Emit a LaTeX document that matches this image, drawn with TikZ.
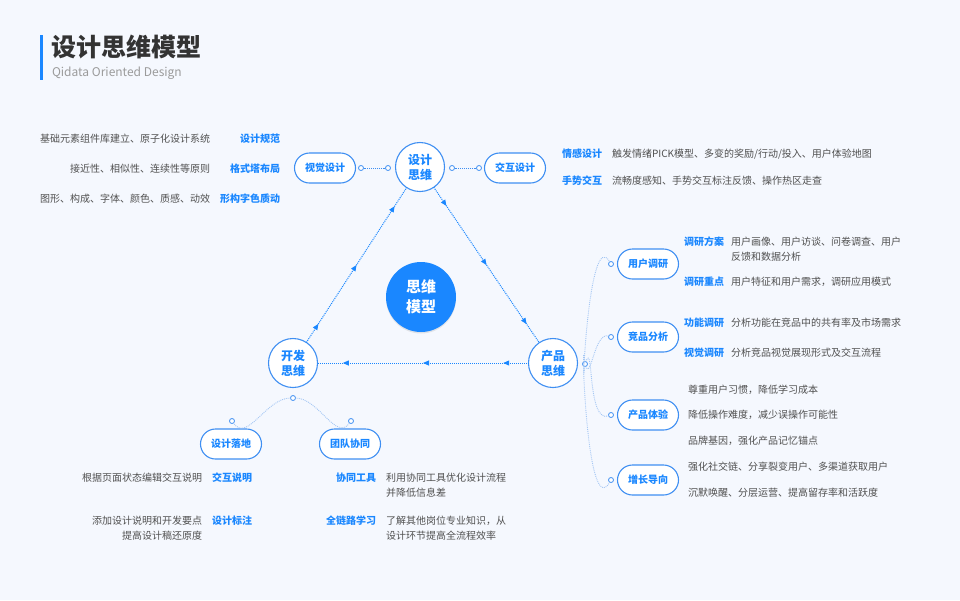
\documentclass[tikz,border=0pt]{standalone}
\usepackage{fontspec}
\setmainfont{Noto Sans CJK SC}
\usetikzlibrary{arrows.meta,decorations.markings,shadows}

\definecolor{pagebg}{HTML}{F5F8FE}
\definecolor{mainblue}{HTML}{1A87FF}
\definecolor{edgeblue}{HTML}{3F8FF2}
\definecolor{linkblue}{HTML}{A3C6F4}
\definecolor{notegray}{HTML}{505050}
\definecolor{titlegray}{HTML}{333333}
\definecolor{subgray}{HTML}{9B9B9B}

\begin{document}
\begin{tikzpicture}[x=1pt, y=-1pt, every node/.style={inner sep=0pt, outer sep=0pt}]
    \tikzstyle{think}=[circle, minimum size=49pt, draw=edgeblue, line width=1.1pt, fill=white, text=mainblue, align=center, font=\bfseries\fontsize{12}{15}\selectfont]
    \tikzstyle{core}=[circle, minimum size=70pt, fill=mainblue, text=white, align=center, font=\bfseries\fontsize{15}{20}\selectfont, drop shadow={shadow xshift=0pt, shadow yshift=-1.5pt, opacity=0.18}]
    \tikzstyle{pill}=[rounded corners=15pt, minimum width=61pt, minimum height=30pt, draw=edgeblue, line width=1.1pt, fill=white, text=mainblue, font=\bfseries\fontsize{10}{12}\selectfont]
    \tikzstyle{knob}=[circle, minimum size=5pt, draw=edgeblue, line width=0.8pt, fill=white]
    \tikzstyle{tag}=[text=mainblue, font=\bfseries\fontsize{10}{12}\selectfont]
    \tikzstyle{note}=[text=notegray, font=\fontsize{10}{15}\selectfont]
    \tikzstyle{link}=[draw=linkblue, densely dotted, line width=0.9pt]
    \tikzstyle{flow}=[draw=mainblue, densely dotted, line width=1pt, postaction={decorate}, decoration={markings,
        mark=at position 0.12 with {\arrow{Triangle[length=6pt, width=5pt]}},
        mark=at position 0.5 with {\arrow{Triangle[length=6pt, width=5pt]}},
        mark=at position 0.88 with {\arrow{Triangle[length=6pt, width=5pt]}}}]

    % Background
    \fill[pagebg] (0,0) rectangle (960,600);

    % Title
    \fill[mainblue] (40,35) rectangle (42.5,80);
    \node[anchor=west, text=titlegray, font=\bfseries\fontsize{25}{27}\selectfont] (title) at (51,47) {设计思维模型};
    \node[anchor=west, text=subgray, font=\fontsize{12}{13}\selectfont] (subtitle) at (52,73) {Qidata Oriented Design};

    % Thinking circles
    \node[think] (design) at (420,167) {设计\\思维};
    \node[think] (product) at (553,363) {产品\\思维};
    \node[think] (dev) at (293,363) {开发\\思维};
    \node[core] (core) at (421,297) {思维\\模型};

    % Cycle between the circles
    \draw[flow] (design) -- (product);
    \draw[flow] (product) -- (dev);
    \draw[flow] (dev) -- (design);

    % Design thinking branches
    \node[pill] (visual) at (325,168) {视觉设计};
    \node[pill] (interact) at (515,168) {交互设计};
    \node[knob] (vk-1) at (361,168) {};
    \node[knob] (vk-2) at (388,168) {};
    \node[knob] (ik-1) at (452,168) {};
    \node[knob] (ik-2) at (479,168) {};
    \draw[link, draw=edgeblue] (vk-1) -- (vk-2);
    \draw[link, draw=edgeblue] (ik-1) -- (ik-2);

    \foreach \n/\y/\tg/\nt in {1/139/设计规范/基础元素组件库建立、原子化设计系统,
                               2/169/格式塔布局/接近性、相似性、连续性等原则,
                               3/199/形构字色质动/图形、构成、字体、颜色、质感、动效} {
        \node[tag, anchor=east] (vtag-\n) at (280,\y) {\tg};
        \node[note, anchor=east] (vnote-\n) at (210,\y) {\nt};
    }

    \node[tag, anchor=west] (itag-1) at (562,154) {情感设计};
    \node[note, anchor=west] (inote-1) at (612,154) {触发情绪PICK模型、多变的奖励/行动/投入、用户体验地图};
    \node[tag, anchor=west] (itag-2) at (562,181) {手势交互};
    \node[note, anchor=west] (inote-2) at (612,181) {流畅度感知、手势交互标注反馈、操作热区走查};

    % Product thinking branches
    \node[knob] (phub) at (585,364) {};
    \foreach \name/\y/\txt in {pa/264/用户调研, pb/337/竞品分析, pc/415/产品体验, pd/480/增长导向} {
        \node[pill] (\name) at (648,\y) {\txt};
        \node[knob] (\name-dot) at (611,\y) {};
    }
    \foreach \name/\o/\i in {pa/-95/120, pb/-70/160, pc/70/-160, pd/95/-120}
        \draw[link] (phub) to[out=\o, in=\i] (\name-dot);

    \node[tag, anchor=west] (rtag-1) at (684,242) {调研方案};
    \node[note, anchor=north west, align=left] (rnote-1) at (731,237) {用户画像、用户访谈、问卷调查、用户\\反馈和数据分析};
    \node[tag, anchor=west] (rtag-2) at (684,282) {调研重点};
    \node[note, anchor=west] (rnote-2) at (731,282) {用户特征和用户需求，调研应用模式};
    \node[tag, anchor=west] (ctag-1) at (684,323) {功能调研};
    \node[note, anchor=west] (cnote-1) at (731,323) {分析功能在竞品中的共有率及市场需求};
    \node[tag, anchor=west] (ctag-2) at (684,353) {视觉调研};
    \node[note, anchor=west] (cnote-2) at (731,353) {分析竞品视觉展现形式及交互流程};

    \foreach \n/\y/\nt in {1/390/尊重用户习惯，降低学习成本, 2/415/降低操作难度，减少误操作可能性,
                           3/441/品牌基因，强化产品记忆锚点, 4/467/强化社交链、分享裂变用户、多渠道获取用户,
                           5/493/沉默唤醒、分层运营、提高留存率和活跃度}
        \node[note, anchor=west] (enote-\n) at (688,\y) {\nt};

    % Development thinking branches
    \node[knob] (dhub) at (293,398) {};
    \node[pill] (landing) at (231,444) {设计落地};
    \node[pill] (team) at (350,444) {团队协同};
    \node[knob] (landing-dot) at (232,421) {};
    \node[knob] (team-dot) at (351,421) {};
    \draw[link] (dhub) to[out=180, in=-55] (landing-dot);
    \draw[link] (dhub) to[out=0, in=-125] (team-dot);

    \node[tag, anchor=west] (ltag-1) at (212,478) {交互说明};
    \node[note, anchor=east] (lnote-1) at (202,478) {根据页面状态编辑交互说明};
    \node[tag, anchor=west] (ltag-2) at (212,521) {设计标注};
    \node[note, anchor=north east, align=right] (lnote-2) at (202,516) {添加设计说明和开发要点\\提高设计稿还原度};
    \node[tag, anchor=east] (ttag-1) at (376,478) {协同工具};
    \node[note, anchor=north west, align=left] (tnote-1) at (386,473) {利用协同工具优化设计流程\\并降低信息差};
    \node[tag, anchor=east] (ttag-2) at (376,521) {全链路学习};
    \node[note, anchor=north west, align=left] (tnote-2) at (386,516) {了解其他岗位专业知识，从\\设计环节提高全流程效率};
\end{tikzpicture}
\end{document}
